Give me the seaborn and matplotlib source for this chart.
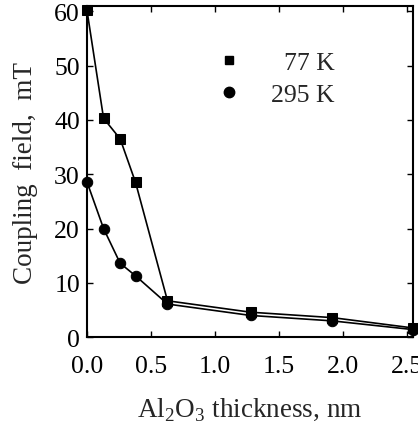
import pandas as pd
import seaborn as sns
import matplotlib.pyplot as plt
from matplotlib.lines import Line2D
from matplotlib.ticker import MultipleLocator

# Al2O3 thickness (nm) and coupling field (mT)
thickness = [0.0, 0.13, 0.26, 0.38, 0.63, 1.28, 1.92, 2.55]
field_77k = [60.2, 40.3, 36.5, 28.5, 6.7, 4.6, 3.6, 1.7]
field_295k = [28.6, 20.0, 13.6, 11.3, 6.1, 4.0, 3.0, 1.4]
series = ['77 K', '295 K']

df = pd.concat([
    pd.DataFrame({'thickness': thickness, 'field': field_77k, 'T': series[0]}),
    pd.DataFrame({'thickness': thickness, 'field': field_295k, 'T': series[1]}),
])

sns.set_style('ticks')
plt.rcParams['font.family'] = ['Liberation Serif', 'DejaVu Serif']
plt.rcParams['mathtext.fontset'] = 'custom'
plt.rcParams['mathtext.rm'] = 'Liberation Serif'

fig = plt.figure(figsize=(4.18, 4.27), dpi=100)
ax = fig.add_axes([0.208, 0.208, 0.78, 0.776])

sns.lineplot(data=df, x='thickness', y='field', style='T',
             markers={'77 K': 's', '295 K': 'o'}, dashes=False,
             color='black', markersize=7.5, linewidth=1.2,
             markeredgecolor='black', clip_on=False, legend=False, ax=ax)

ax.set_xlim(0, 2.55)
ax.set_ylim(0, 61)
ax.xaxis.set_major_locator(MultipleLocator(0.5))
ax.yaxis.set_major_locator(MultipleLocator(10))
ax.xaxis.set_major_formatter(lambda v, p: f'{v:.1f}')
ax.tick_params(direction='in', top=True, right=True, length=4, width=1,
               labelsize=18.5, colors='black')
ax.tick_params(axis='x', pad=13)
ax.tick_params(axis='y', pad=5)
for s in ax.spines.values():
    s.set_linewidth(1.5)
    s.set_color('black')

ax.set_xlabel('Al$_2$O$_3$ thickness, nm', fontsize=19.5, labelpad=13)
ax.set_ylabel('Coupling  field,  mT', fontsize=19.5, labelpad=12)

handles = [Line2D([], [], marker='s', color='black', linestyle='none', markersize=6),
           Line2D([], [], marker='o', color='black', linestyle='none', markersize=7.5)]
ax.legend(handles, ['  77 K', '295 K'], loc='upper right',
          bbox_to_anchor=(0.815, 0.918), frameon=False, fontsize=18.5,
          handletextpad=0.65, labelspacing=0.35, borderpad=0.2)

fig.savefig('out.png', dpi=100)
